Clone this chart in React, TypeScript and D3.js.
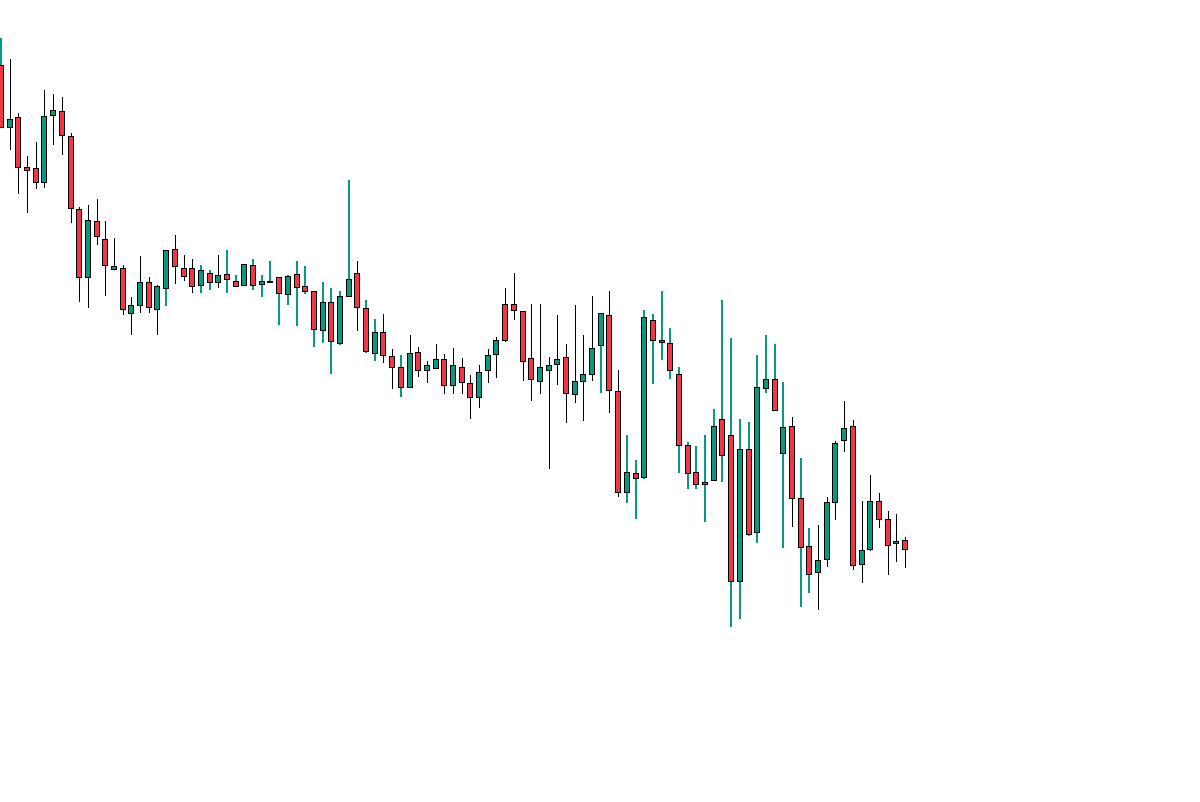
import React from "react"
import {scaleLinear} from "d3"

// OHLC values (arbitrary price units)
const opens = [935,873,883,833,832,818,885,889,864,791,723,779,761,731,732,687,695,718,691,712,751,732,732,715,727,718,726,719,715,735,716,718,723,706,726,714,709,670,698,657,704,727,692,647,668,644,633,613,648,630,632,641,615,633,617,603,630,646,696,696,689,642,619,630,636,643,606,619,626,655,685,609,508,527,523,680,658,657,626,555,528,516,520,581,565,419,551,468,612,621,547,574,502,454,428,441,498,560,574,436,451,499,481,457,460]
const highs = [962,941,887,844,858,910,906,903,867,793,795,801,779,762,735,703,744,723,715,750,765,745,741,735,730,745,750,725,736,741,725,739,723,725,739,734,709,718,712,709,820,739,700,681,686,651,645,665,653,639,656,646,652,642,625,635,651,663,712,727,689,696,696,643,685,656,695,665,704,687,709,630,565,540,690,686,709,672,633,558,554,565,591,700,662,581,578,645,665,656,618,583,542,472,475,503,559,599,580,499,525,507,489,486,463]
const lows = [873,850,806,787,811,812,855,845,777,698,692,755,704,730,685,665,687,687,665,694,716,719,707,707,710,712,707,713,715,710,703,718,675,695,674,706,653,657,626,655,703,669,647,639,637,611,603,613,623,617,632,606,606,606,581,592,617,622,658,680,619,599,606,531,615,577,597,579,619,607,587,503,497,481,521,616,640,621,527,511,511,478,520,518,373,381,464,457,607,590,452,473,393,407,390,433,480,548,430,417,449,472,425,438,432]
const closes = [873,881,833,830,818,884,890,865,792,723,780,764,735,734,691,695,718,693,714,750,734,724,714,730,718,725,721,714,736,715,719,719,707,724,713,709,671,698,659,704,721,693,649,668,645,633,613,647,630,635,641,615,635,618,603,628,645,660,660,690,639,621,633,635,641,607,619,626,652,687,610,508,528,522,683,660,660,630,555,527,516,518,574,545,419,551,466,613,621,590,573,502,453,426,440,498,557,572,435,450,499,481,455,459,451]
// wick colour runs, in candle order: b = black, g = green
const wickRuns: [string, number][] = [
  ["g", 1], ["b", 18], ["g", 1], ["b", 3], ["g", 2], ["b", 1], ["g", 15], ["b", 1],
  ["g", 2], ["b", 2], ["g", 1], ["b", 22], ["g", 1], ["b", 2], ["g", 19], ["b", 1],
  ["g", 2], ["b", 11],
]
const wickTone = wickRuns.flatMap(([t, k]) => Array(k).fill(t))

const W = 1200
const H = 802
const UP = "#089981"
const DOWN = "#F23645"

export default function App() {
  const n = opens.length
  const x = scaleLinear().domain([0, n - 1]).range([1, 905])
  const y = scaleLinear().domain([198, 1000]).range([H, 0])

  return (
    <svg width={W} height={H} style={{position: "absolute", left: 0, top: 0, background: "#fff"}}>
      {opens.map((o, i) => {
        const c = closes[i]
        const up = c >= o
        const cx = Math.round(x(i))
        const green = wickTone[i] === "g"
        const top = Math.round(y(Math.max(o, c))) + 0.5
        const bot = Math.round(y(Math.min(o, c))) + 0.5
        return (
          <g key={i}>
            <line
              x1={green ? cx : cx + 0.5} x2={green ? cx : cx + 0.5}
              y1={Math.round(y(highs[i]))} y2={Math.round(y(lows[i]))}
              stroke={green ? UP : "#000"}
              strokeWidth={green ? 2 : 1}
            />
            <rect
              x={cx - 2.5}
              y={top}
              width={5}
              height={Math.max(1, bot - top)}
              fill={up ? UP : DOWN}
              stroke="#000"
              strokeWidth={1}
            />
          </g>
        )
      })}
    </svg>
  )
}
